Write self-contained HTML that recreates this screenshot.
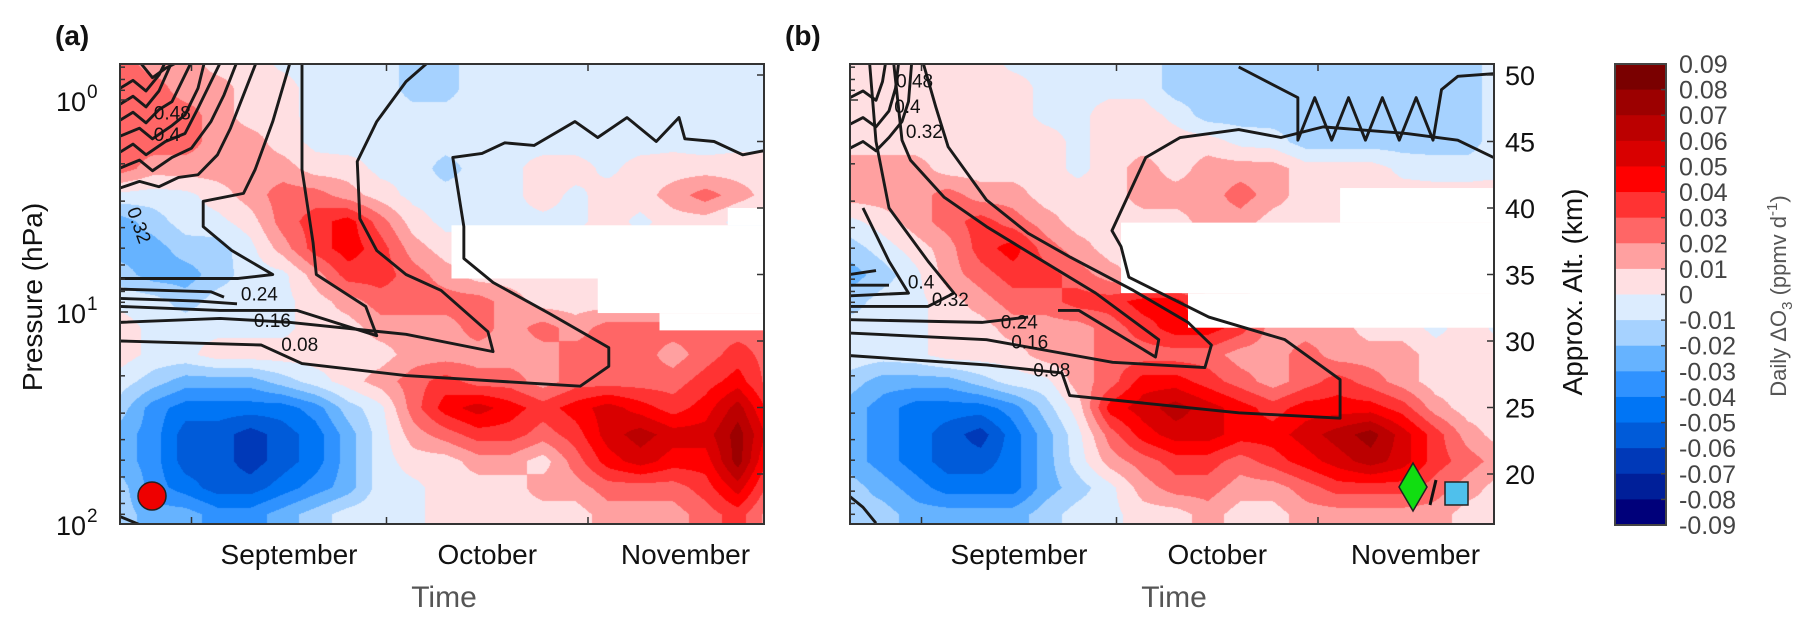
<!DOCTYPE html>
<html><head><meta charset="utf-8"><style>
html,body{margin:0;padding:0;background:#fff;}
#wrap{position:relative;width:1820px;height:630px;overflow:hidden;font-family:"Liberation Sans",Arial,sans-serif;}
canvas{position:absolute;}
svg{position:absolute;left:0;top:0;}
</style></head><body>
<div id="wrap">
<canvas id="cva" width="644" height="460" style="left:120px;top:64px"></canvas>
<canvas id="cvb" width="644" height="460" style="left:850px;top:64px"></canvas>
<svg id="svg" width="1820" height="630" xmlns="http://www.w3.org/2000/svg"></svg>
</div>
<script>
// ---- data ----
const DAYS=[0,5,10,15,20,25,30,35,40,45,50,55,60,65,70,75,80,85,90,95,100];
const ALTS=[17,19,21,23,25,27,29,31,33,35,37,39,41,43,45,47,49,51];
const fieldA=[
[-2,-3,-3,-4,-4,-3,-2,-1,0,0,1,1,1,1,1,2,2,2,3,4,2],
[-2,-4,-5,-6,-6,-5,-4,-3,-1,0,1,1,1,2,2,3,3,3,4,6,3],
[-3,-4,-6,-6,-7,-6,-5,-3,-1,1,1,2,2,1,3,5,6,5,5,8,4],
[-3,-4,-6,-6,-7,-6,-5,-3,-1,2,3,4,4,3,4,6,7,6,6,8,5],
[-2,-4,-5,-5,-5,-5,-4,-2,0,3,5,6,5,4,5,6,5,4,5,7,4],
[-1,-2,-3,-3,-3,-2,-1,1,2,3,4,3,3,2,3,3,3,3,4,5,3],
[1,0,0,1,1,1,1,1,1,2,2,2,2,2,3,3,3,2,3,4,3],
[1,0,0,0,0,0,1,1,2,2,2,3,2,3,2,3,3,3,3,3,3],
[0,-1,-2,-1,-1,0,1,2,3,3,3,3,2,1,1,1,1,1,1,1,1],
[-2,-3,-3,-2,-1,0,2,4,4,3,2,1,1,1,1,1,1,1,1,1,1],
[-3,-3,-2,-2,0,2,4,5,4,2,1,1,1,1,1,1,1,1,1,1,1],
[-3,-2,-1,0,1,3,4,5,3,1,0,0,0,0,0,1,0,1,1,0,0],
[0,-1,0,1,2,3,3,2,1,0,-1,-1,0,1,0,1,1,2,3,2,1],
[3,2,2,2,2,2,1,1,0,0,-2,-1,0,1,1,0,1,1,1,1,1],
[3,3,3,2,2,1,0,-1,0,0,-1,-1,0,-1,-1,-1,-1,0,-1,0,0],
[3,3,3,2,1,1,-1,-1,0,-1,-1,-1,-1,-1,-1,-1,-1,0,-1,0,0],
[3,3,2,2,1,1,-1,-1,0,-2,-2,0,-1,-1,-1,0,0,-1,0,0,0],
[3,2,2,1,1,0,-1,-1,0,-2,-2,0,0,0,0,0,0,-1,0,0,0]];
const fieldB=[
[-2,-2,-3,-3,-3,-3,-2,-1,0,1,1,2,1,1,2,2,2,2,2,1,1],
[-2,-3,-4,-5,-5,-5,-3,-2,0,2,3,3,2,2,3,4,4,4,3,2,1],
[-3,-4,-5,-6,-6,-5,-3,-1,2,3,4,4,3,4,5,6,7,6,4,3,2],
[-3,-4,-5,-6,-7,-5,-3,0,3,5,6,6,5,5,6,7,8,6,4,2,1],
[-3,-4,-5,-5,-5,-4,-2,1,5,6,7,6,5,4,5,5,5,4,2,1,1],
[-2,-3,-3,-3,-2,-1,0,2,3,5,5,4,3,2,3,4,3,2,1,1,1],
[0,-1,0,1,1,1,2,2,3,3,3,3,2,2,3,2,2,2,1,1,1],
[-1,-1,0,1,1,2,2,2,3,4,5,5,4,2,2,2,1,1,0,1,0],
[-2,-1,0,1,2,3,3,4,4,5,5,3,2,1,1,1,1,1,1,1,1],
[-3,-2,0,2,3,4,4,3,2,1,1,1,1,1,1,1,1,1,1,1,1],
[-2,-1,1,2,4,5,3,2,1,1,1,1,1,1,1,1,1,1,1,1,1],
[0,1,2,3,4,3,2,1,1,1,1,2,2,1,1,1,1,1,1,1,1],
[2,2,2,3,2,2,1,1,1,2,2,2,3,2,1,1,1,1,1,1,1],
[2,2,2,1,1,1,1,0,1,2,1,2,2,2,1,1,1,0,-1,-1,0],
[1,1,1,1,1,1,1,0,1,1,1,1,0,-1,-2,-2,-2,-2,-2,-2,0],
[1,1,1,1,1,1,0,0,1,1,0,-2,-2,-2,-2,-2,-2,-2,-2,-2,0],
[1,1,1,1,1,1,0,0,0,0,-2,-2,-2,-2,-2,-2,-2,-2,-2,-2,0],
[1,1,1,1,1,0,0,0,0,0,-2,-2,-2,-2,-2,-2,-2,-2,-2,-2,0]];
// missing-data blocks: [startDay, altLow, altHigh]
const gapsA=[[51,34.7,38.7],[73.5,32.1,34.7],[83,30.8,32.1],[93.5,38.7,40.0]];
const gapsB=[[41.7,33.6,38.9],[52,31.0,33.6],[75.4,38.9,41.5]];
// contour lines [day, alt]
const contA=[
[[0,30.0],[21.7,29.7],[28,28.3],[44,27.4],[70.8,26.6],[75.2,28.1],[75.2,29.5],[66.3,32.0],[57.4,34.4],[52.9,36.2],[52.9,38.6],[51.2,43.8],[55.7,44.1],[59.2,44.9],[63.7,44.7],[70,46.5],[73.5,45.3],[78,46.8],[82.5,45.0],[86,46.8],[86.9,45.2],[91.4,45.0],[95.8,44.0],[99,44.3]],
[[0,31.4],[15.4,31.7],[26.2,31.4],[44,30.5],[57.4,29.2],[56.6,30.7],[49.4,33.8],[44,35],[39.5,36.8],[36.9,39.2],[36.5,43.5],[39.5,46.5],[44,49.5],[47.5,51]],
[[0,32.6],[15.4,32.3],[27.2,32.3],[39.5,30.4],[37.8,32.6],[30.2,35],[29.7,37.4],[28,42.9],[28,51]],
[[0,34.7],[18.2,34.7],[23.5,35],[17.2,36.8],[12.8,38.6],[12.8,40.5],[19,41.1],[20.8,42.9],[23.5,46.5],[26.2,51]],
[[0,33.9],[14,33.7],[16,33.3]],[[0,33.2],[12,33.0],[18,32.8]],
[[0,41.5],[3,42.0],[6,41.6],[9,42.3],[12,42.5],[15,44],[17,46],[19,48.5],[21,51]],
[[0,43.0],[3,43.6],[5,42.8],[8,43.8],[11,44.5],[14,46.5],[16,48.5],[18,51]],
[[0,44.2],[2,44.8],[4,44.0],[7,45.0],[10,45.6],[12,47.5],[14,49.5],[15.5,51]],
[[0,45.4],[3,46.0],[5,45.2],[8,46.2],[10,47],[12,49],[13,51]],
[[0,46.6],[2,47.2],[4,46.4],[6,47.4],[8,48],[10,50],[11,51]],
[[0,47.8],[2,48.4],[4,47.6],[6,48.8],[8,51]],
[[0,49.0],[2,49.6],[4,48.8],[6,50],[7,51]],
[[3,51],[5,49.8],[7,50.5],[9,51]],
[[0,16.8],[3,16.2],[5,16.0]]];
const contB=[
[[0,28.9],[21,28.2],[32.6,27.6],[33.8,25.9],[59.8,24.6],[75.4,24.2],[75.4,27.1],[66.9,30.1],[55.2,31.8],[42.9,34.8],[41.7,37.1],[40.3,38.3],[45.5,43.8],[50.8,45.3],[59.8,45.9],[66.3,45.3],[72.8,46.1],[85.7,45.6],[93.5,45.1],[99,43.8]],
[[59.8,50.6],[68.9,48.3],[68.9,45.1],[71.5,48.3],[74.1,45.1],[76.7,48.3],[79.3,45.1],[81.9,48.3],[84.5,45.1],[87.1,48.3],[89.7,45.1],[91,48.9],[93.5,49.9],[99,50.1]],
[[0,30.6],[21,30.1],[40.4,28.4],[54.6,28.0],[55.6,29.7],[52,31.4],[43.6,33.8],[33.9,36.3],[27.4,38.1],[21,40.6],[15.1,44.6],[13.2,47.6],[11.2,51]],
[[0,31.6],[20.3,31.4],[27.4,31.8]],
[[32,32.3],[35.2,32.3],[47,28.8],[47.5,30.1],[37.8,33.6],[28.7,36.3],[21,38.6],[14.5,40.8],[9.3,43.6],[8,45.1],[6.7,51]],
[[0,32.6],[12,32.6],[16,33.6],[12,36],[6,40],[4,45],[3,51]],
[[0,33.4],[9,33.6],[6,36],[2,40]],
[[0,34.2],[6,34.2]],[[0,35],[4,35.3]],
[[0,44.5],[2,45],[4,44.3],[6,45.3],[8,46.5],[9,48],[9.5,51]],
[[0,46.3],[2,46.8],[4,46.1],[6,47.3],[7,49],[7.5,51]],
[[0,48.3],[2,48.8],[4,48.1],[5,49.5],[5.5,51]],
[[0,18.3],[2,17.5],[4,16.3]]];
const labelsA=[["0.24",18.6,33.5,0],["0.16",20.6,31.5,0],["0.08",24.8,29.7,0],["0.48",5.2,47.1,0],["0.4",5.2,45.5,0],["0.32",1.9,40,70]];
const labelsB=[["0.48",7.1,49.5,0],["0.4",6.8,47.6,0],["0.32",8.6,45.7,0],["0.4",8.9,34.4,0],["0.32",12.6,33.1,0],["0.24",23.2,31.4,0],["0.16",24.8,29.9,0],["0.08",28.2,27.8,0]];
const monthDays=[11,41,72];
const monthNames=["September","October","November"];
const pressTicks=[1,10,100];
const altTicks=[20,25,30,35,40,45,50];
const cbTicks=["0.09","0.08","0.07","0.06","0.05","0.04","0.03","0.02","0.01","0","-0.01","-0.02","-0.03","-0.04","-0.05","-0.06","-0.07","-0.08","-0.09"];
const posColors=["#ffdfe2","#ffa0a0","#ff6666","#ff3333","#ff0000","#d90000","#bb0000","#9c0000","#7a0000"];
const negColors=["#dcecfe","#a6d2ff","#66b3ff","#2f92ff","#0075f5","#005bd9","#0039b8","#001f99","#00007a"];

// ---- geometry ----
const Y0=64,Y1=524,W=644,H=460,PX=6.5;
const panels=[{x0:120,field:fieldA,gaps:gapsA,cont:contA,labels:labelsA,cv:"cva",id:"a"},{x0:850,field:fieldB,gaps:gapsB,cont:contB,labels:labelsB,cv:"cvb",id:"b"}];
const yAlt=a=>75+(50-a)*13.3;
const altY=y=>50-(y-75)/13.3;
const yP=p=>100+212*Math.log10(p);
const xD=(p,d)=>p.x0+d*PX;
function cval(k){return k>0?k-0.5:(k<0?k+0.5:-0.3);}
function color(c){if(c>=0){return posColors[Math.min(8,Math.floor(c))];}return negColors[Math.min(8,-Math.floor(c)-1)];}
function hex(h){return [parseInt(h.substr(1,2),16),parseInt(h.substr(3,2),16),parseInt(h.substr(5,2),16)];}
function sample(f,d,a){
  let fx=Math.max(0,Math.min(DAYS.length-1.0001,d/(DAYS[1]-DAYS[0])));
  let fy=Math.max(0,Math.min(ALTS.length-1.0001,(a-ALTS[0])/(ALTS[1]-ALTS[0])));
  const i=Math.floor(fx),j=Math.floor(fy),tx=fx-i,ty=fy-j;
  const v00=cval(f[j][i]),v10=cval(f[j][i+1]),v01=cval(f[j+1][i]),v11=cval(f[j+1][i+1]);
  return (v00*(1-tx)+v10*tx)*(1-ty)+(v01*(1-tx)+v11*tx)*ty;
}
const NS="http://www.w3.org/2000/svg";
const svg=document.getElementById("svg");
function el(tag,attrs,parent){const e=document.createElementNS(NS,tag);for(const k in attrs)e.setAttribute(k,attrs[k]);(parent||svg).appendChild(e);return e;}

panels.forEach(p=>{
  const cv=document.getElementById(p.cv),ctx=cv.getContext("2d");
  const img=ctx.createImageData(W,H);
  for(let y=0;y<H;y++){const a=altY(Y0+y);for(let x=0;x<W;x++){const d=x/PX;const c=hex(color(sample(p.field,d,a)));const o=(y*W+x)*4;img.data[o]=c[0];img.data[o+1]=c[1];img.data[o+2]=c[2];img.data[o+3]=255;}}
  ctx.putImageData(img,0,0);
  const g=el("g",{});
  
  
  p.gaps.forEach(gp=>{
    const r=el("rect",{x:xD(p,gp[0]),y:yAlt(gp[2]),width:p.x0+W-xD(p,gp[0]),height:yAlt(gp[1])-yAlt(gp[2]),fill:"#fff"},g);
    
    
  });
  const cg=el("g",{"clip-path":"url(#clip"+p.id+")"},g);
  const cp=el("clipPath",{id:"clip"+p.id});el("rect",{x:p.x0,y:Y0,width:W,height:H},cp);
  p.cont.forEach(c=>{
    const pl=el("polyline",{points:c.map(q=>xD(p,q[0])+","+yAlt(q[1])).join(" "),fill:"none",stroke:"#1a1a1a","stroke-width":2.9,"stroke-linejoin":"round"},cg);
    
    
  });
  p.labels.forEach(l=>{
    const x=xD(p,l[1]),y=yAlt(l[2]);
    const t=el("text",{x:x,y:y+6,"font-size":19,fill:"#111",transform:l[3]?"rotate("+l[3]+" "+x+" "+y+")":""},g);
    t.textContent=l[0];
    
    
  });
  const fr=el("rect",{x:p.x0,y:Y0,width:W,height:H,fill:"none",stroke:"#333","stroke-width":2},g);
  
  
  monthDays.forEach((d,i)=>{
    el("line",{x1:xD(p,d),x2:xD(p,d),y1:Y1,y2:Y1-7,stroke:"#333","stroke-width":1.5},g);
    el("line",{x1:xD(p,d),x2:xD(p,d),y1:Y0,y2:Y0+7,stroke:"#333","stroke-width":1.5},g);
    const mid=i<2?(monthDays[i]+monthDays[i+1])/2:monthDays[i]+15;
    const t=el("text",{x:xD(p,mid),y:564,"font-size":28,"text-anchor":"middle",fill:"#111"},g);
    t.textContent=monthNames[i];
    
    
  });
  const tt=el("text",{x:p.x0+W/2+2,y:607,"font-size":30,"text-anchor":"middle",fill:"#555"},g);
  tt.textContent="Time";
  
  
  for(let e=-1;e<=2;e++){for(let m=1;m<=9;m++){const pv=m*Math.pow(10,e);const y=yP(pv);if(y<Y0||y>Y1)continue;el("line",{x1:p.x0,x2:p.x0+(m==1?8:5),y1:y,y2:y,stroke:"#333","stroke-width":1.5},g);}}
  altTicks.forEach(a=>{el("line",{x1:p.x0+W,x2:p.x0+W-7,y1:yAlt(a),y2:yAlt(a),stroke:"#333","stroke-width":1.5},g);});
  const pl=el("text",{x:p.x0-65,y:45,"font-size":28,"font-weight":"bold",fill:"#111"},g);
  pl.textContent="("+p.id+")";
  
  
});
pressTicks.forEach((pv,i)=>{
  const t=el("text",{x:86,y:yP(pv)+11,"font-size":27,"text-anchor":"end",fill:"#111"});
  t.textContent="10";
  
  
  const s=el("text",{x:87,y:yP(pv)-2,"font-size":19,fill:"#111"});
  s.textContent=String(i);
  
  
});
const yl=el("text",{x:0,y:0,"font-size":28,"text-anchor":"middle",fill:"#111",transform:"translate(42 297) rotate(-90)"});
yl.textContent="Pressure (hPa)";


altTicks.forEach(a=>{
  const t=el("text",{x:1505,y:yAlt(a)+10,"font-size":27,fill:"#111"});
  t.textContent=String(a);
  
  
});
const al=el("text",{x:0,y:0,"font-size":28,"text-anchor":"middle",fill:"#111",transform:"translate(1582 292) rotate(-90)"});
al.textContent="Approx. Alt. (km)";


const CBX=1615,CBW=51,CBY0=64,CBY1=525,nb=18,bh=(CBY1-CBY0)/nb;
const cb=el("g",{});


for(let i=0;i<nb;i++){
  const col=i<9?posColors[8-i]:negColors[i-9];
  const r=el("rect",{x:CBX,y:CBY0+i*bh,width:CBW,height:bh+0.5,fill:col},cb);
  
  
}
el("rect",{x:CBX,y:CBY0,width:CBW,height:CBY1-CBY0,fill:"none",stroke:"#444","stroke-width":2},cb);
cbTicks.forEach((l,i)=>{
  const y=CBY0+i*bh;
  el("line",{x1:CBX+CBW,x2:CBX+CBW-5,y1:y,y2:y,stroke:"#444","stroke-width":1.5},cb);
  const t=el("text",{x:1679,y:y+9,"font-size":25,fill:"#444"},cb);
  t.textContent=l;
  
  
});
const ct=el("text",{x:0,y:0,"font-size":22,"text-anchor":"middle",fill:"#555",transform:"translate(1786 296) rotate(-90)"});
ct.innerHTML='Daily ΔO<tspan font-size="15" dy="6">3</tspan><tspan dy="-6"> (ppmv d</tspan><tspan font-size="15" dy="-9">-1</tspan><tspan dy="9">)</tspan>';


const mk1=el("ellipse",{cx:152,cy:496,rx:14,ry:14,fill:"#ee0000",stroke:"#222","stroke-width":1.5});


const mk2=el("polygon",{points:"1413,463 1427,487 1413,511 1399,487",fill:"#11dd11",stroke:"#222","stroke-width":1.5});


const sl=el("line",{x1:1436,y1:480,x2:1430,y2:505,stroke:"#111","stroke-width":3});


const mk3=el("rect",{x:1445,y:482,width:23,height:23,fill:"#4fc0ec",stroke:"#222","stroke-width":1.5});


</script>
</body></html>
